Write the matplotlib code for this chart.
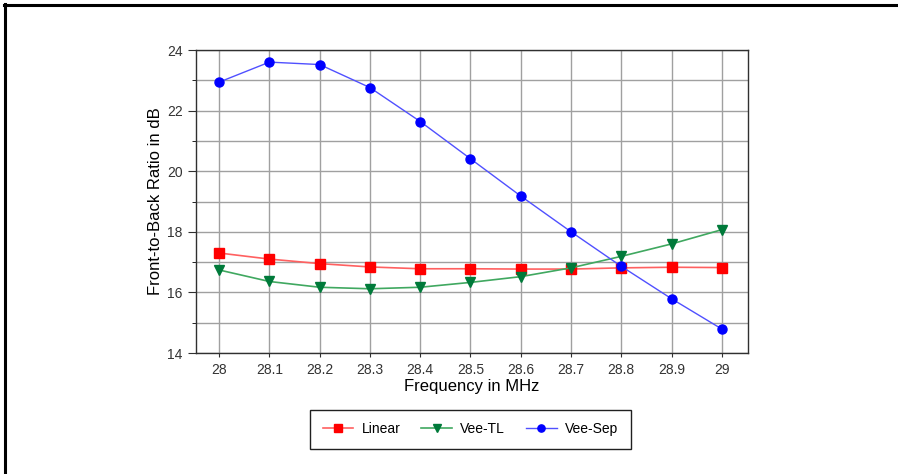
import matplotlib.pyplot as plt
from matplotlib.lines import Line2D
from matplotlib.ticker import MultipleLocator

plt.rcParams['font.family'] = ['Liberation Sans', 'DejaVu Sans']

# data
freq = [28.0, 28.1, 28.2, 28.3, 28.4, 28.5, 28.6, 28.7, 28.8, 28.9, 29.0]
linear = [17.30, 17.10, 16.95, 16.84, 16.78, 16.78, 16.77, 16.77, 16.81, 16.83, 16.82]
vee_tl = [16.74, 16.36, 16.17, 16.12, 16.17, 16.33, 16.52, 16.81, 17.19, 17.60, 18.07]
vee_sep = [22.94, 23.60, 23.52, 22.76, 21.64, 20.41, 19.18, 18.00, 16.86, 15.79, 14.79]
xtick_labels = ['28', '28.1', '28.2', '28.3', '28.4', '28.5', '28.6', '28.7', '28.8', '28.9', '29']

fig = plt.figure(figsize=(8.98, 4.74), dpi=100)
ax = fig.add_axes([196/898, 1-353/474, (748-196)/898, (353-50)/474])

ax.plot(freq, linear, color='#ff6060', lw=1.2, marker='s', ms=6.5,
        mfc='#ff0000', mec='#ff0000', label='Linear')
ax.plot(freq, vee_tl, color='#40a860', lw=1.2, marker='v', ms=7.5,
        mfc='#007a3a', mec='#007a3a', label='Vee-TL')
ax.plot(freq, vee_sep, color='#5050ff', lw=1.0, marker='o', ms=6.5,
        mfc='#0000ff', mec='#0000ff', label='Vee-Sep')

ax.set_xlim(27.954, 29.052)
ax.set_ylim(14, 24)
ax.set_xticks(freq)
ax.set_xticklabels(xtick_labels)
ax.yaxis.set_major_locator(MultipleLocator(2))
ax.yaxis.set_minor_locator(MultipleLocator(1))
ax.grid(which='both', color='#a0a0a0', lw=1)
ax.set_axisbelow(True)
for s in ax.spines.values():
    s.set_color('#303030')
    s.set_linewidth(1)
ax.tick_params(axis='both', labelsize=10, colors='#303030', labelcolor='#333333')
ax.tick_params(axis='y', which='major', length=6)
ax.tick_params(axis='y', which='minor', length=3)
ax.tick_params(axis='x', length=3, pad=4)

ax.set_xlabel('Frequency in MHz', fontsize=12, labelpad=2)
ax.set_ylabel('Front-to-Back Ratio in dB', fontsize=12, labelpad=3)

leg = fig.legend(loc='center', bbox_to_anchor=(470.5/898, 1-429/474), ncol=3,
                 fontsize=10, fancybox=False, edgecolor='#202020', framealpha=1,
                 handlelength=2.2, columnspacing=1.5, borderpad=0.9, handletextpad=0.6,
                 markerscale=0.8)
leg.get_frame().set_linewidth(1)

# outer frame (top and left edges)
fig.add_artist(Line2D([4/898, 1], [1-5/474, 1-5/474], color='black', lw=2.2))
fig.add_artist(Line2D([5/898, 5/898], [0, 1-4/474], color='black', lw=2.2))

fig.savefig('out.png', dpi=100)
